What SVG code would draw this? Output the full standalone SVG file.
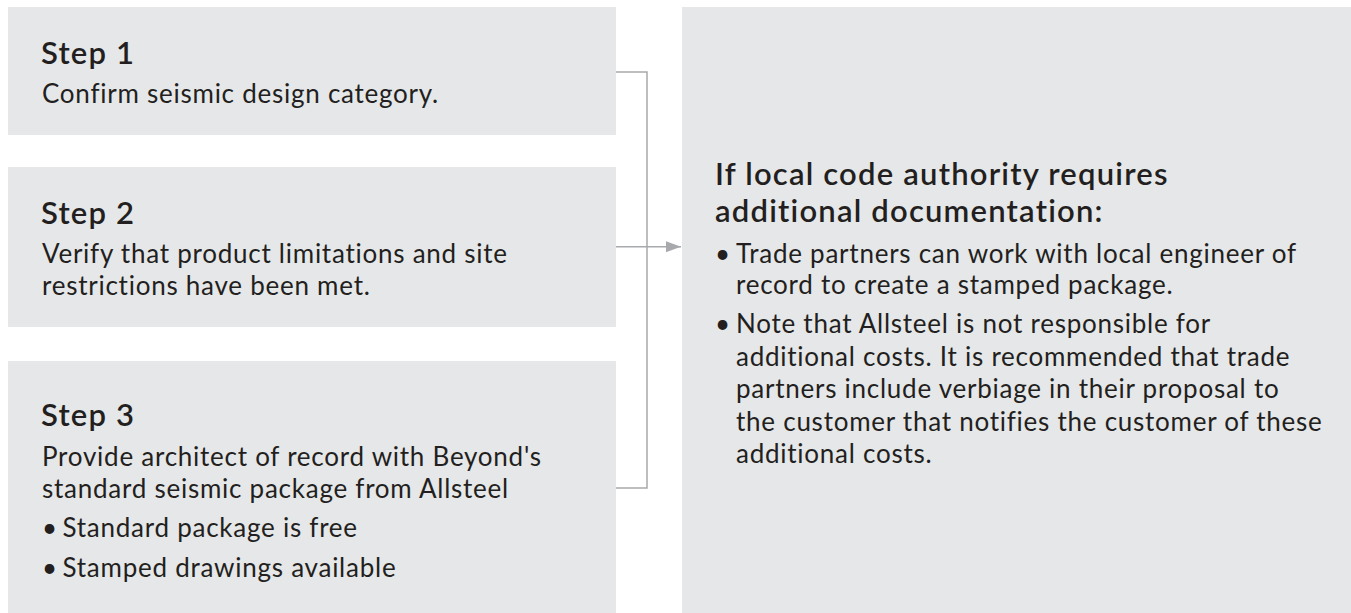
<svg xmlns="http://www.w3.org/2000/svg" width="1351" height="613" viewBox="0 0 1351 613">
<defs>
<style>
.box{fill:#e6e7e8;}
.h{font-family:Lato,"Liberation Sans",sans-serif;font-weight:600;font-size:31px;letter-spacing:1.2px;fill:#231f20;}
.t{font-family:Lato,"Liberation Sans",sans-serif;font-weight:400;font-size:26px;letter-spacing:0.75px;fill:#231f20;}
.conn{fill:none;stroke:#a7a9ac;stroke-width:1.5;}
</style>
<marker id="arr" viewBox="0 0 15 11" refX="15" refY="5.5" markerWidth="15" markerHeight="11" markerUnits="userSpaceOnUse" orient="auto">
<path d="M0,0 L15,5.5 L0,11 Z" fill="#a7a9ac"/>
</marker>
</defs>
<rect width="1351" height="613" fill="#ffffff"/>
<g id="step1">
<rect class="box" x="8" y="7" width="608" height="128"/>
<text class="h" x="41" y="64">Step 1</text>
<text class="t" x="42" y="103.3">Confirm seismic design category.</text>
</g>
<g id="step2">
<rect class="box" x="8" y="167" width="608" height="160"/>
<text class="h" x="41" y="224">Step 2</text>
<text class="t" x="42" y="263.3">Verify that product limitations and site</text>
<text class="t" x="42" y="295">restrictions have been met.</text>
</g>
<g id="step3">
<rect class="box" x="8" y="361" width="608" height="252"/>
<text class="h" x="41" y="426">Step 3</text>
<text class="t" x="42" y="466">Provide architect of record with Beyond's</text>
<text class="t" x="42" y="497.7">standard seismic package from Allsteel</text>
<text class="t" x="42" y="537">•</text>
<text class="t" x="62.5" y="537">Standard package is free</text>
<text class="t" x="42" y="576.7">•</text>
<text class="t" x="62.5" y="576.7">Stamped drawings available</text>
</g>
<g id="result">
<rect class="box" x="682" y="7" width="669" height="606"/>
<text class="h" x="715" y="185">If local code authority requires</text>
<text class="h" x="715" y="221.7">additional documentation:</text>
<text class="t" x="715" y="262.7">•</text>
<text class="t" x="736" y="262.7">Trade partners can work with local engineer of</text>
<text class="t" x="736" y="294">record to create a stamped package.</text>
<text class="t" x="715" y="333.3">•</text>
<text class="t" x="736" y="333.3">Note that Allsteel is not responsible for</text>
<text class="t" x="736" y="365.5">additional costs. It is recommended that trade</text>
<text class="t" x="736" y="398">partners include verbiage in their proposal to</text>
<text class="t" x="736" y="430.5">the customer that notifies the customer of these</text>
<text class="t" x="736" y="462.5">additional costs.</text>
</g>
<g id="connectors">
<polyline class="conn" points="616,72 647,72 647,488 616,488"/>
<line class="conn" x1="616" y1="246.7" x2="681" y2="246.7" marker-end="url(#arr)"/>
</g>
</svg>
